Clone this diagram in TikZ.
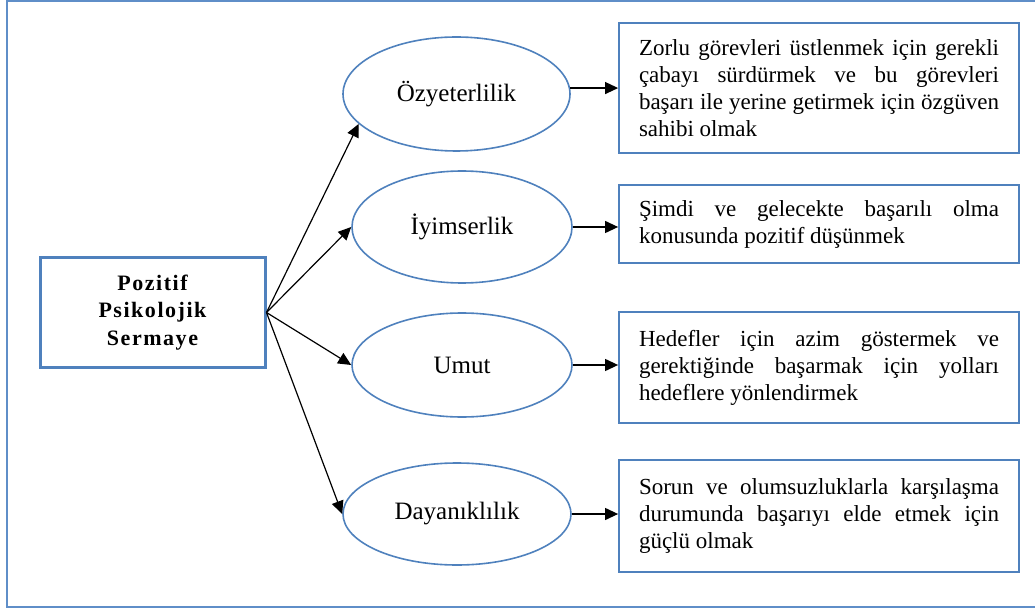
\documentclass[tikz,border=0pt]{standalone}
\usepackage{fontspec}
\setmainfont{Liberation Serif}
\usetikzlibrary{shapes.geometric,arrows.meta}
\definecolor{ob}{RGB}{79,129,189}
\definecolor{fb}{RGB}{95,142,200}
\begin{document}
\hyphenpenalty=10000 \exhyphenpenalty=10000 \tolerance=10000 \hbadness=10000 \hfuzz=5pt
\begin{tikzpicture}[x=1pt,y=-1pt,
  every node/.style={font=\fontsize{23}{27}\selectfont},
  oval/.style={ellipse,draw=ob,line width=1.6pt,inner sep=0pt,font=\fontsize{25}{28}\selectfont},
  descbox/.style={draw=ob,line width=1.8pt,minimum width=400pt,text width=360pt,inner sep=0pt,align=justify},
  arr/.style={line width=1.2pt,-{Triangle[length=13pt,width=12pt]}}]
\useasboundingbox (0,0) rectangle (1035,609);
\draw[fb,line width=1.5pt] (1036,1) -- (7,1) -- (7,607) -- (1036,607);

\node[draw=ob,line width=3pt,minimum width=225pt,minimum height=109pt,align=center,
  font=\bfseries\fontsize{22}{27.5}\selectfont\addfontfeature{LetterSpace=7}] (m) at (152.5,312.5) {Pozitif\\Psikolojik\\Sermaye};

\node[oval,minimum width=227pt,minimum height=114pt] (e1) at (456.5,94) {Özyeterlilik};
\node[oval,minimum width=220pt,minimum height=112pt] (e2) at (462,227) {İyimserlik};
\node[oval,minimum width=220pt,minimum height=104pt] (e3) at (462,365) {Umut};
\node[oval,minimum width=228pt,minimum height=102pt] (e4) at (457,514) {Dayanıklılık};

\node[descbox,minimum height=130pt] (b1) at (819,88) {Zorlu görevleri üstlenmek için gerekli\linebreak çabayı sürdürmek ve bu görevleri\linebreak başarı ile yerine getirmek için özgüven\linebreak sahibi olmak};
\node[descbox,minimum height=78pt] (b2) at (819,224) {Şimdi ve gelecekte başarılı olma\linebreak konusunda pozitif düşünmek};
\node[descbox,minimum height=111pt] (b3) at (819,367.5) {Hedefler için azim göstermek ve\linebreak gerektiğinde başarmak için yolları\linebreak hedeflere yönlendirmek};
\node[descbox,minimum height=112pt] (b4) at (819,516) {Sorun ve olumsuzluklarla karşılaşma\linebreak durumunda başarıyı elde etmek için\linebreak güçlü olmak};

\coordinate (src) at (m.east);
\draw[arr] (src) -- (e1.197);
\draw[arr] (src) -- (e2.west);
\draw[arr] (src) -- (e3.west);
\draw[arr] (src) -- (e4.west);

\draw[arr] (e1.3) -- (e1.3 -| b1.west);
\draw[arr] (e2.east) -- (e2.east -| b2.west);
\draw[arr] (e3.east) -- (e3.east -| b3.west);
\draw[arr] (e4.east) -- (e4.east -| b4.west);
\end{tikzpicture}
\end{document}
